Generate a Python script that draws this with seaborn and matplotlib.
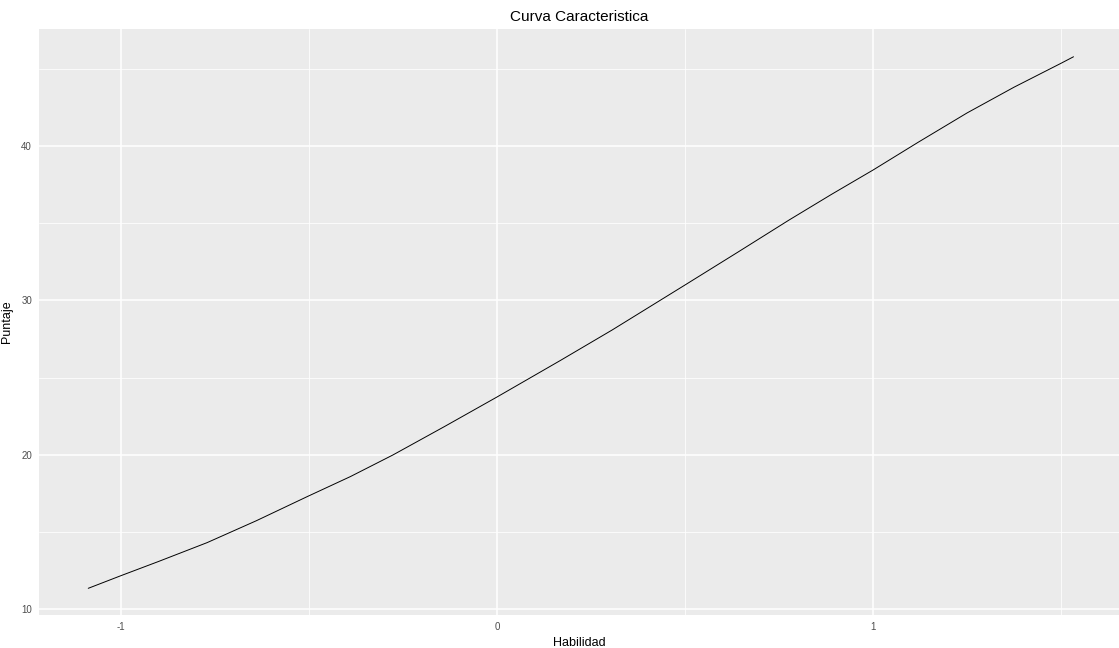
import matplotlib
matplotlib.use("Agg")
import matplotlib.pyplot as plt
import seaborn as sns
import pandas as pd
from matplotlib.ticker import FixedLocator

habilidad = [-1.087, -1.0, -0.9, -0.771, -0.64, -0.505, -0.39, -0.277, -0.14, 0.0, 0.168, 0.306,
             0.5, 0.64, 0.776, 0.89, 1.0, 1.12, 1.25, 1.375, 1.5, 1.533]
puntaje = [11.34, 12.16, 13.08, 14.30, 15.72, 17.28, 18.58, 19.98, 21.82, 23.74, 26.10, 28.08,
           31.00, 33.12, 35.20, 36.88, 38.45, 40.25, 42.15, 43.82, 45.37, 45.79]
x_ticks = [-1, 0, 1]
y_ticks = [10, 20, 30, 40]

df = pd.DataFrame({"Habilidad": habilidad, "Puntaje": puntaje})

sns.set_theme(style="darkgrid")
plt.rcParams['font.family'] = ['Liberation Sans Narrow', 'Liberation Sans', 'DejaVu Sans']
plt.rcParams['axes.unicode_minus'] = False

fig = plt.figure(figsize=(11.19, 6.48), dpi=100)
ax = fig.add_axes([39/1119, 33/648, 1 - 39/1119, (615-29)/648])
ax.set_facecolor('#EBEBEB')

sns.lineplot(data=df, x="Habilidad", y="Puntaje", ax=ax, color='black', linewidth=0.7, sort=True)

ax.set_xlim(-1.218, 1.654)
ax.set_ylim(9.61, 47.59)
ax.xaxis.set_major_locator(FixedLocator(x_ticks))
ax.yaxis.set_major_locator(FixedLocator(y_ticks))
ax.xaxis.set_minor_locator(FixedLocator([-0.5, 0.5, 1.5]))
ax.yaxis.set_minor_locator(FixedLocator([15, 25, 35, 45]))
ax.grid(which='major', color='white', linewidth=1.1)
ax.grid(which='minor', color='white', linewidth=0.55)
ax.set_axisbelow(True)
for s in ax.spines.values():
    s.set_visible(False)

ax.tick_params(axis='both', which='major', length=3, width=0.8, color='#333333',
               labelcolor='#4D4D4D', labelsize=7, pad=2, direction='out')
ax.tick_params(axis='both', which='minor', length=0)

ax.set_xlabel("Habilidad", fontsize=9, color='black', labelpad=4)
ax.set_ylabel("Puntaje", fontsize=9, color='black', labelpad=6)
ax.set_title("Curva Caracteristica", fontsize=11, color='black', pad=6)

fig.savefig("out.png", dpi=100)
